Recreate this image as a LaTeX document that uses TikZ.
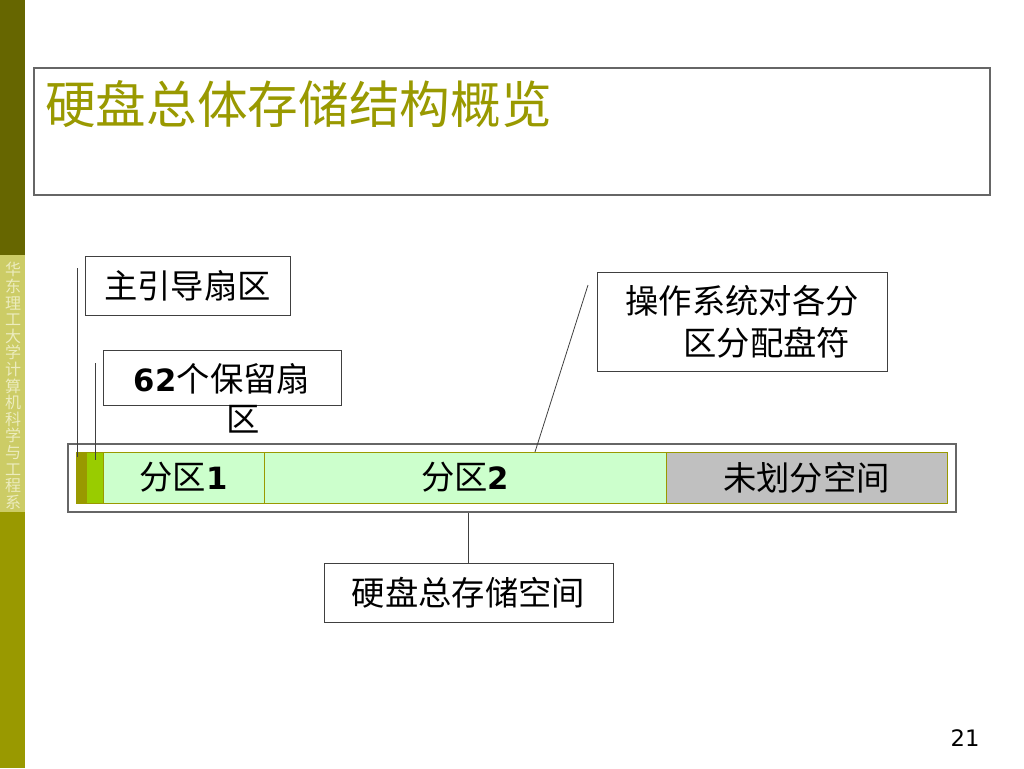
\documentclass[tikz,border=0pt]{standalone}
\usepackage{fontspec}
\setmainfont{DejaVu Sans}
\newfontfamily\cjk{Noto Sans CJK SC}
\newfontfamily\digitfont{DejaVu Sans}

\definecolor{oliveDark}{RGB}{102,102,0}
\definecolor{oliveMid}{RGB}{153,153,0}
\definecolor{oliveLight}{RGB}{204,204,102}
\definecolor{sideText}{RGB}{236,236,190}
\definecolor{yellowGreen}{RGB}{153,204,0}
\definecolor{paleGreen}{RGB}{204,255,204}
\definecolor{freeGrey}{RGB}{192,192,192}
\definecolor{boxLine}{RGB}{64,64,64}

\tikzset{
  labelbox/.style={draw=boxLine, line width=0.6pt, fill=white, inner sep=0pt,
    font=\cjk\fontsize{25}{30}\selectfont},
  seg/.style={draw=oliveMid, line width=0.5pt, inner sep=0pt, minimum height=38.25pt,
    font=\cjk\fontsize{25}{30}\selectfont},
  pointer/.style={draw=boxLine, line width=0.6pt}
}
\newcommand{\bdigit}[1]{{\digitfont\bfseries\fontsize{23}{28}\selectfont #1}}

\begin{document}
\begin{tikzpicture}[x=0.75pt,y=0.75pt,yscale=-1,xscale=1]
    \useasboundingbox (0,0) rectangle (1024,768);

    % Side Bar
    \fill [oliveDark] (0,0) rectangle (25,255);
    \fill [oliveLight] (0,255) rectangle (25,512);
    \fill [oliveMid] (0,512) rectangle (25,768);
    \node (school) at (13,386) [align=center, text=sideText, inner sep=0pt,
      font=\cjk\fontsize{12}{12.45}\selectfont]
      {华\\东\\理\\工\\大\\学\\计\\算\\机\\科\\学\\与\\工\\程\\系};

    % Title
    \node (titlebox) at (512,131.5) [draw=boxLine!80, line width=0.9pt, minimum width=717pt, minimum height=95.25pt] {};
    \node (title) at (45,104) [anchor=west, inner sep=0pt, text=oliveMid,
      font=\cjk\fontsize{38}{44}\selectfont] {硬盘总体存储结构概览};

    % Disk Bar
    \node (outer) at (512,478) [draw=boxLine!80, line width=0.8pt, minimum width=666pt, minimum height=51pt] {};
    \node (mbrseg) at (81,477.5) [seg, fill=oliveMid, minimum width=7.5pt] {};
    \node (resseg) at (94.5,477.5) [seg, fill=yellowGreen, minimum width=12.75pt] {};
    \node (part1) at (183.5,477.5) [seg, fill=paleGreen, minimum width=120.75pt] {分区\bdigit{1}};
    \node (part2) at (465,477.5) [seg, fill=paleGreen, minimum width=301.5pt] {分区\bdigit{2}};
    \node (free) at (806.5,477.5) [seg, fill=freeGrey, minimum width=210.75pt] {未划分空间};

    % Text Node
    \node (mbr) at (187.5,285.5) [labelbox, minimum width=153.75pt, minimum height=44.25pt] {主引导扇区};
    % Text Node
    \node (res) at (222,377.5) [labelbox, minimum width=178.5pt, minimum height=41.25pt] {};
    \node (restext) at (222,398) [align=center, inner sep=0pt, font=\cjk\fontsize{25}{30}\selectfont]
      {\bdigit{62}个保留扇\\\hspace*{31.5pt}区};
    % Text Node
    \node (drv) at (742,321.5) [labelbox, minimum width=217.5pt, minimum height=74.25pt,
      align=left, font=\cjk\fontsize{25}{31.5}\selectfont] {操作系统对各分\\\hspace*{43.5pt}区分配盘符};
    % Text Node
    \node (total) at (468.5,592.5) [labelbox, minimum width=216.75pt, minimum height=44.25pt] {硬盘总存储空间};

    % Connection
    \coordinate (mbrtip) at (77,268);
    \coordinate (mbrend) at ([yshift=4pt]mbrseg.north);
    \draw [pointer] (mbrtip) -- (mbrtip |- mbrend);
    % Connection
    \coordinate (restip) at (95,363);
    \coordinate (resend) at ([yshift=6pt]resseg.north);
    \draw [pointer] (restip) -- (restip |- resend);
    % Connection
    \coordinate (drvtip) at (588,285);
    \coordinate (drvend) at (535,452);
    \draw [pointer] (drvtip) -- (drvend);
    % Connection
    \draw [pointer] (total.north) -- (total.north |- outer.south);

    % Page Number
    \node (page) at (965,738) [font=\digitfont\fontsize{17}{20}\selectfont] {21};

\end{tikzpicture}
\end{document}
